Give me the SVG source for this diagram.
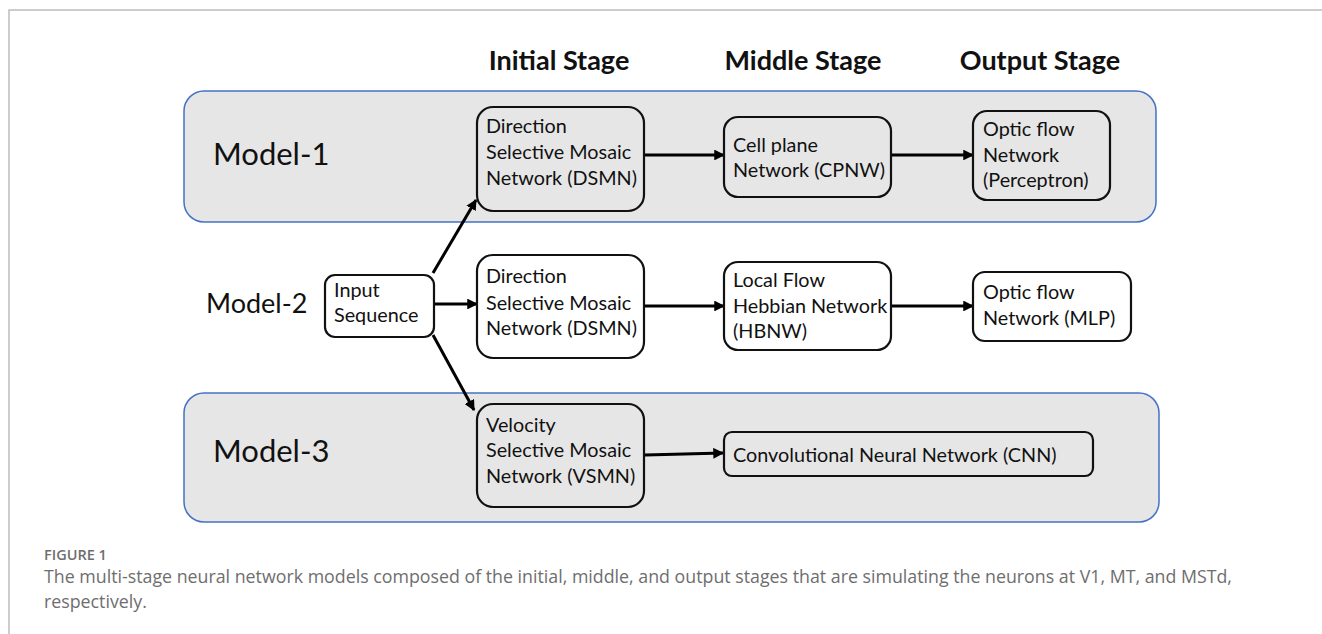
<svg xmlns="http://www.w3.org/2000/svg" width="1322" height="634" viewBox="0 0 1322 634">
<style>
.frame{stroke:#bdbdbd;stroke-width:1.5;fill:none}
.model{fill:#e7e6e6;stroke:#4472c4;stroke-width:1.5}
.node{fill:none;stroke:#111;stroke-width:2.2}
.nodew{fill:#fff;stroke:#111;stroke-width:2.2}
.t{font-family:Lato,"Open Sans",sans-serif;font-size:19.8px;fill:#111}
.head{font-family:Lato,"Open Sans",sans-serif;font-size:27px;font-weight:bold;fill:#111;text-anchor:middle}
.mlab{font-family:Lato,"Open Sans",sans-serif;fill:#111}
.conn{stroke:#000;stroke-width:3;fill:none;marker-end:url(#ah)}
.cap{font-family:"Open Sans",sans-serif;fill:#6e6e6e}
</style>
<defs>
<marker id="ah" viewBox="0 0 10 10" refX="9" refY="5" markerWidth="3.6" markerHeight="3.6" orient="auto" markerUnits="strokeWidth">
<path d="M0,0 L10,5 L0,10 z" fill="#000"/>
</marker>
</defs>
<rect width="1322" height="634" fill="#fff"/>
<path class="frame" d="M9,634 V10 H1322"/>

<g id="headings">
<text class="head" x="559" y="70">Initial Stage</text>
<text class="head" x="803" y="70">Middle Stage</text>
<text class="head" x="1040" y="70">Output Stage</text>
</g>

<g id="model1">
<rect class="model" x="184" y="91" width="972" height="131" rx="20"/>
<text class="mlab" x="213" y="165" font-size="31">Model-1</text>
</g>
<g id="model3">
<rect class="model" x="184" y="393" width="975" height="129" rx="20"/>
<text class="mlab" x="213" y="462" font-size="31">Model-3</text>
</g>
<g id="model2">
<text class="mlab" x="206" y="313" font-size="27">Model-2</text>
</g>

<g id="connectors">
<line class="conn" x1="644" y1="155" x2="724" y2="155"/>
<line class="conn" x1="892" y1="155" x2="973" y2="155"/>
<line class="conn" x1="434" y1="304" x2="477" y2="304"/>
<line class="conn" x1="644" y1="306" x2="724" y2="306"/>
<line class="conn" x1="891" y1="306" x2="973" y2="306"/>
<line class="conn" x1="433" y1="273" x2="476" y2="200"/>
<line class="conn" x1="433" y1="335" x2="474" y2="410"/>
<line class="conn" x1="645" y1="455" x2="723" y2="453"/>
<polygon points="429,301 433,296 434,302" fill="#4472c4"/>
</g>

<g id="dsmn1">
<rect class="node" x="477" y="107" width="167" height="104" rx="16"/>
<text class="t" x="486" y="133">Direction</text>
<text class="t" x="486" y="159">Selective Mosaic</text>
<text class="t" x="486" y="185">Network (DSMN)</text>
</g>
<g id="cpnw">
<rect class="node" x="724" y="117" width="167" height="80" rx="14"/>
<text class="t" x="733" y="152">Cell plane</text>
<text class="t" x="733" y="177">Network (CPNW)</text>
</g>
<g id="perceptron">
<rect class="node" x="973" y="111" width="137" height="89" rx="14"/>
<text class="t" x="983" y="136">Optic flow</text>
<text class="t" x="983" y="162">Network</text>
<text class="t" x="983" y="187">(Perceptron)</text>
</g>

<g id="input">
<rect class="nodew" x="325" y="275" width="109" height="62" rx="10"/>
<text class="t" x="334" y="297">Input</text>
<text class="t" x="334" y="322">Sequence</text>
</g>
<g id="dsmn2">
<rect class="nodew" x="477" y="255" width="167" height="103" rx="16"/>
<text class="t" x="486" y="283">Direction</text>
<text class="t" x="486" y="310">Selective Mosaic</text>
<text class="t" x="486" y="335">Network (DSMN)</text>
</g>
<g id="hbnw">
<rect class="nodew" x="724" y="262" width="167" height="88" rx="14"/>
<text class="t" x="733" y="287">Local Flow</text>
<text class="t" x="733" y="313">Hebbian Network</text>
<text class="t" x="733" y="338">(HBNW)</text>
</g>
<g id="mlp">
<rect class="nodew" x="973" y="272" width="158" height="69" rx="12"/>
<text class="t" x="983" y="299">Optic flow</text>
<text class="t" x="983" y="325">Network (MLP)</text>
</g>

<g id="vsmn">
<rect class="node" x="477" y="404" width="167" height="103" rx="16"/>
<text class="t" x="486" y="432">Velocity</text>
<text class="t" x="486" y="457">Selective Mosaic</text>
<text class="t" x="486" y="483">Network (VSMN)</text>
</g>
<g id="cnn">
<rect class="node" x="724" y="432" width="369" height="44" rx="8"/>
<text class="t" x="733" y="462">Convolutional Neural Network (CNN)</text>
</g>

<g id="caption">
<text class="cap" x="44" y="560" font-size="14.5" font-weight="600">FIGURE 1</text>
<text class="cap" x="44" y="583" font-size="17.8">The multi-stage neural network models composed of the initial, middle, and output stages that are simulating the neurons at V1, MT, and MSTd,</text>
<text class="cap" x="44" y="608" font-size="17.8">respectively.</text>
</g>
</svg>
